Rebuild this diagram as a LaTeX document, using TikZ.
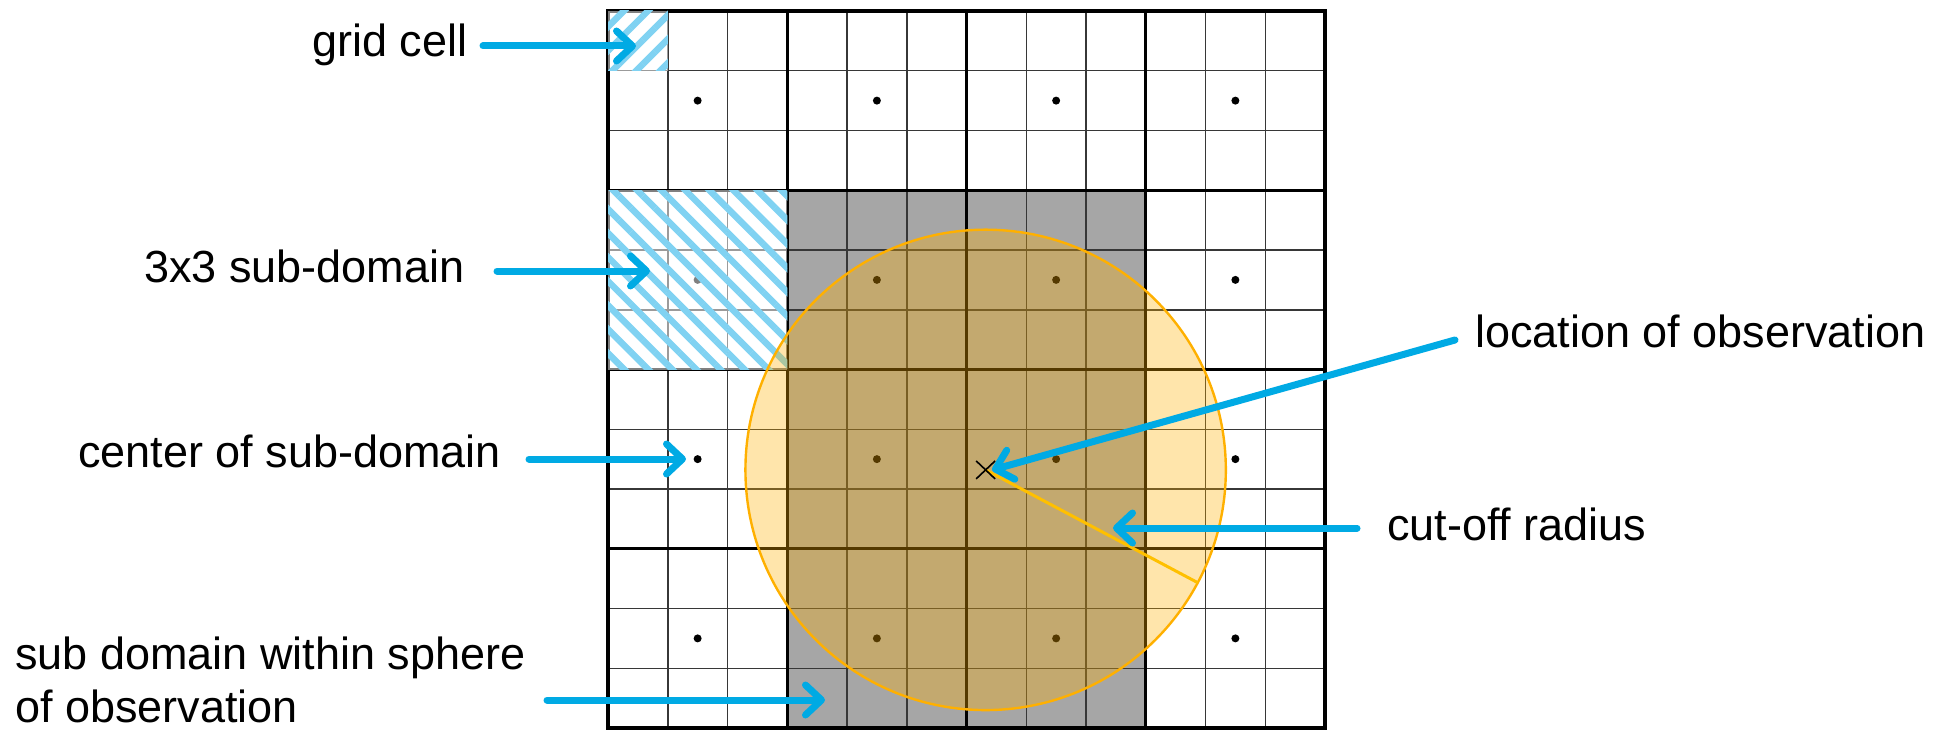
\documentclass[tikz,border=0pt]{standalone}
\usepackage{fontspec}
\setmainfont{Liberation Sans}
\usetikzlibrary{arrows.meta,patterns.meta,calc}
\definecolor{arrowblue}{RGB}{0,170,228}
\definecolor{hatchblue}{RGB}{128,210,242}
\definecolor{cellgray}{RGB}{166,166,166}
\definecolor{gridgray}{RGB}{55,55,55}
\definecolor{circorange}{RGB}{255,176,0}
\definecolor{radyellow}{RGB}{255,192,0}
\begin{document}
\begin{tikzpicture}[x=1bp,y=-1bp,
  lbl/.style={anchor=base west, inner sep=0pt, font=\fontsize{45bp}{54bp}\selectfont},
  pointer/.style={draw=arrowblue, line width=7bp, line cap=round, -{Straight Barb[length=16bp,width=30bp,round]}},
  thinline/.style={draw=gridgray, line width=1.5bp},
  thickline/.style={draw=black, line width=2.8bp},
  dotmark/.style={fill=black},
  hatchA/.style={pattern={Lines[angle=45,distance=17bp,line width=6.5bp]}, pattern color=hatchblue},
  hatchB/.style={pattern={Lines[angle=-45,distance=17bp,line width=6.5bp]}, pattern color=hatchblue},
 ]
\useasboundingbox (0,0) rectangle (1950,731);
\begin{scope}[shift={(608,11)}, x=59.75bp, y=-59.75bp]
  \fill[cellgray] (3,3) rectangle (9,12);
  \foreach \k in {0,...,12} {
    \draw[thinline] (\k,0) -- (\k,12);
    \draw[thinline] (0,\k) -- (12,\k);
  }
  \foreach \k in {0,3,6,9,12} {
    \draw[thickline] (\k,0) -- (\k,12);
    \draw[thickline] (0,\k) -- (12,\k);
  }
  \draw[line width=3.6bp] (0,0) rectangle (12,12);
  \foreach \i in {1.5,4.5,7.5,10.5} {
    \foreach \j in {1.5,4.5,7.5,10.5} {
      \fill[dotmark] (\i,\j) circle[radius=4bp];
    }
  }
  % hatched grid cell and sub-domain
  \fill[white, fill opacity=0.5] (0,0) rectangle (1,1);
  \fill[hatchA] (0,0) rectangle (1,1);
  \fill[white, fill opacity=0.5] (0,3) rectangle (3,6);
  \fill[hatchB] (0,3) rectangle (3,6);
  % sphere of observation
  \coordinate (obs) at (6.32,7.68);
  \fill[circorange, fill opacity=0.33] (obs) circle[radius=4.02];
  \draw[circorange, line width=2.4bp] (obs) circle[radius=4.02];
  \coordinate (rimpt) at ($(obs)+(28:4.02)$);
  \draw[radyellow, line width=3bp] (obs) -- (rimpt);
\end{scope}
% observation mark
\draw[black, line width=1.6bp] ($(obs)+(-9.5,-9)$) -- ($(obs)+(9.5,9)$);
\draw[black, line width=1.6bp] ($(obs)+(-9.5,9)$) -- ($(obs)+(9.5,-9)$);
% labels
\node[lbl] (gridcell) at (312,57) {grid cell};
\node[lbl] (subdom) at (144,282) {3x3 sub-domain};
\node[lbl] (centerlbl) at (78,467) {center of sub-domain};
\node[lbl, align=left, font=\fontsize{45bp}{53bp}\selectfont] (spherelbl) at (15,722) {sub domain within sphere\\of observation};
\node[lbl] (locationlbl) at (1475,347) {location of observation};
\node[lbl] (cutofflbl) at (1387,540) {cut-off radius};
% arrow end points
\coordinate (t1) at (483,46);   \coordinate (h1) at (636,46);
\coordinate (t2) at (497,271);  \coordinate (h2) at (650,271);
\coordinate (t3) at (529,459);  \coordinate (h3) at (686,459);
\coordinate (t4) at (547,700);  \coordinate (h4) at (825,700);
\coordinate (t5) at (1455,340); \coordinate (h5) at (992,470);
\coordinate (t6) at (1357,528); \coordinate (h6) at (1113,528);
\draw[pointer] (t1) -- (h1);
\draw[pointer] (t2) -- (h2);
\draw[pointer] (t3) -- (h3);
\draw[pointer] (t4) -- (h4);
\draw[pointer] (t5) -- (h5);
\draw[pointer] (t6) -- (h6);
\end{tikzpicture}
\end{document}
